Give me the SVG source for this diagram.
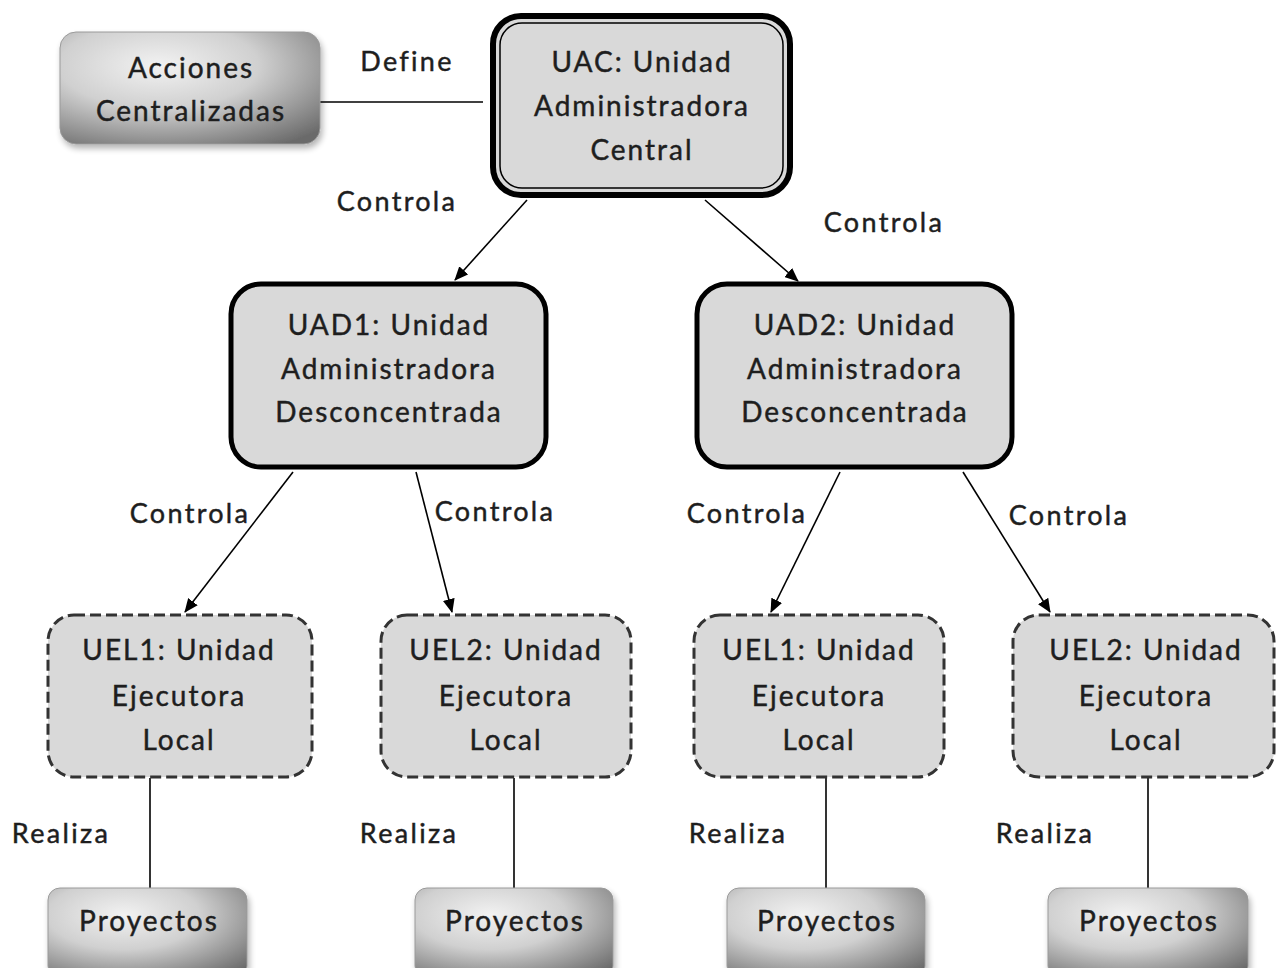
<svg xmlns="http://www.w3.org/2000/svg" width="1276" height="968" viewBox="0 0 1276 968">
  <defs>
    <radialGradient id="metal" cx="0.38" cy="0.3" r="0.85">
      <stop offset="0" stop-color="#f2f2f2"/>
      <stop offset="0.45" stop-color="#d0d0d0"/>
      <stop offset="1" stop-color="#6a6a6a"/>
    </radialGradient>
    <filter id="soft" x="-10%" y="-10%" width="125%" height="130%">
      <feGaussianBlur in="SourceAlpha" stdDeviation="3"/>
      <feOffset dx="2" dy="4"/>
      <feComponentTransfer><feFuncA type="linear" slope="0.3"/></feComponentTransfer>
      <feMerge><feMergeNode/><feMergeNode in="SourceGraphic"/></feMerge>
    </filter>
    <marker id="arrow" viewBox="0 0 14 12" refX="13" refY="6" markerWidth="14" markerHeight="12" markerUnits="userSpaceOnUse" orient="auto">
      <path d="M0,0 L14,6 L0,12 z" fill="#000"/>
    </marker>
  </defs>
  <style>
    text { font-family: Lato, "Open Sans", "Liberation Sans", sans-serif; fill: #1e1e1e; stroke: #1e1e1e; stroke-width: 0.45; text-anchor: middle; }
    .node { font-size: 28px; letter-spacing: 2px; }
    .lbl { font-size: 27px; letter-spacing: 2.3px; }
    .metal { fill: url(#metal); stroke: #9a9a9a; stroke-width: 1; filter: url(#soft); }
    .uad { fill: #d9d9d9; stroke: #000; stroke-width: 5; }
    .uel { fill: #d9d9d9; stroke: #333; stroke-width: 3; stroke-dasharray: 11 5; }
    .edge { stroke: #000; stroke-width: 1.6; fill: none; }
  </style>
  <rect width="1276" height="968" fill="#fff"/>

  <!-- connectors -->
  <g id="connectors">
    <line class="edge" x1="320" y1="102" x2="483" y2="102"/>
    <line class="edge" x1="527" y1="200" x2="455" y2="280" marker-end="url(#arrow)"/>
    <line class="edge" x1="705" y1="200" x2="798" y2="281" marker-end="url(#arrow)"/>
    <line class="edge" x1="293" y1="472" x2="185" y2="612" marker-end="url(#arrow)"/>
    <line class="edge" x1="416" y1="472" x2="452" y2="612" marker-end="url(#arrow)"/>
    <line class="edge" x1="840" y1="472" x2="771" y2="612" marker-end="url(#arrow)"/>
    <line class="edge" x1="963" y1="472" x2="1050" y2="612" marker-end="url(#arrow)"/>
    <line class="edge" x1="150" y1="778" x2="150" y2="888"/>
    <line class="edge" x1="514" y1="778" x2="514" y2="888"/>
    <line class="edge" x1="826" y1="778" x2="826" y2="888"/>
    <line class="edge" x1="1148" y1="778" x2="1148" y2="888"/>
    <text class="lbl" x="407" y="71">Define</text>
    <text class="lbl" x="397" y="211">Controla</text>
    <text class="lbl" x="884" y="232">Controla</text>
    <text class="lbl" x="190" y="523">Controla</text>
    <text class="lbl" x="495" y="521">Controla</text>
    <text class="lbl" x="747" y="523">Controla</text>
    <text class="lbl" x="1069" y="525">Controla</text>
    <text class="lbl" x="61" y="843">Realiza</text>
    <text class="lbl" x="409" y="843">Realiza</text>
    <text class="lbl" x="738" y="843">Realiza</text>
    <text class="lbl" x="1045" y="843">Realiza</text>
  </g>

  <g id="acciones">
    <rect class="metal" x="60" y="32" width="260" height="112" rx="16"/>
    <text class="node" x="191" y="78">Acciones</text>
    <text class="node" x="191" y="121">Centralizadas</text>
  </g>

  <g id="uac">
    <rect x="493" y="16" width="297" height="179" rx="28" fill="#d9d9d9" stroke="#000" stroke-width="6"/>
    <rect x="500" y="23" width="283" height="165" rx="22" fill="none" stroke="#000" stroke-width="1.5"/>
    <text class="node" x="642" y="72">UAC: Unidad</text>
    <text class="node" x="642" y="116">Administradora</text>
    <text class="node" x="642" y="160">Central</text>
  </g>

  <g id="uad1">
    <rect class="uad" x="231" y="284" width="315" height="183" rx="30"/>
    <text class="node" x="389" y="335">UAD1: Unidad</text>
    <text class="node" x="389" y="379">Administradora</text>
    <text class="node" x="389" y="422">Desconcentrada</text>
  </g>

  <g id="uad2">
    <rect class="uad" x="697" y="284" width="315" height="183" rx="30"/>
    <text class="node" x="855" y="335">UAD2: Unidad</text>
    <text class="node" x="855" y="379">Administradora</text>
    <text class="node" x="855" y="422">Desconcentrada</text>
  </g>

  <g id="uel1-a">
    <rect class="uel" x="48" y="615" width="264" height="162" rx="26"/>
    <text class="node" x="179" y="660">UEL1: Unidad</text>
    <text class="node" x="179" y="706">Ejecutora</text>
    <text class="node" x="179" y="750">Local</text>
  </g>

  <g id="uel2-a">
    <rect class="uel" x="381" y="615" width="250" height="162" rx="26"/>
    <text class="node" x="506" y="660">UEL2: Unidad</text>
    <text class="node" x="506" y="706">Ejecutora</text>
    <text class="node" x="506" y="750">Local</text>
  </g>

  <g id="uel1-b">
    <rect class="uel" x="694" y="615" width="250" height="162" rx="26"/>
    <text class="node" x="819" y="660">UEL1: Unidad</text>
    <text class="node" x="819" y="706">Ejecutora</text>
    <text class="node" x="819" y="750">Local</text>
  </g>

  <g id="uel2-b">
    <rect class="uel" x="1013" y="615" width="261" height="162" rx="26"/>
    <text class="node" x="1146" y="660">UEL2: Unidad</text>
    <text class="node" x="1146" y="706">Ejecutora</text>
    <text class="node" x="1146" y="750">Local</text>
  </g>

  <g id="proyectos-1">
    <rect class="metal" x="48" y="888" width="199" height="90" rx="12"/>
    <text class="node" x="149" y="931">Proyectos</text>
  </g>
  <g id="proyectos-2">
    <rect class="metal" x="415" y="888" width="198" height="90" rx="12"/>
    <text class="node" x="515" y="931">Proyectos</text>
  </g>
  <g id="proyectos-3">
    <rect class="metal" x="727" y="888" width="198" height="90" rx="12"/>
    <text class="node" x="827" y="931">Proyectos</text>
  </g>
  <g id="proyectos-4">
    <rect class="metal" x="1048" y="888" width="200" height="90" rx="12"/>
    <text class="node" x="1149" y="931">Proyectos</text>
  </g>
</svg>
